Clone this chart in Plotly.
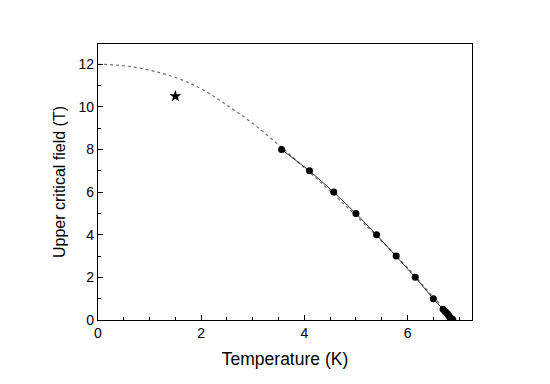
import plotly.graph_objects as go

# Measured data (dots)
temp_meas = [3.56, 4.10, 4.57, 5.00, 5.40, 5.78, 6.15, 6.50, 6.69, 6.73, 6.77, 6.80, 6.83, 6.86, 6.88]
hc2_meas = [8.0, 7.0, 6.0, 5.0, 4.0, 3.0, 2.0, 1.0, 0.5, 0.4, 0.3, 0.2, 0.1, 0.05, 0.0]

# Dashed fit curve
temp_fit = [0.0, 0.5, 1.0, 1.5, 2.0, 2.5, 3.0, 3.5, 4.0, 4.5, 5.0, 5.5, 6.0, 6.5, 6.92]
hc2_fit = [12.0, 11.93, 11.72, 11.38, 10.85, 10.08, 9.22, 8.22, 7.15, 6.05, 4.9, 3.7, 2.45, 1.08, 0.0]

# Star point
temp_star = [1.5]
hc2_star = [10.5]

x_ticks = [0, 2, 4, 6]
y_ticks = [0, 2, 4, 6, 8, 10, 12]

FONT = "Liberation Sans, Arial, sans-serif"

fig = go.Figure()
fig.add_trace(go.Scatter(x=temp_fit, y=hc2_fit, mode="lines", line=dict(color="#707070", width=1.2, dash="3px,3px"),
                         line_shape="spline", showlegend=False))
fig.add_trace(go.Scatter(x=temp_meas, y=hc2_meas, mode="lines+markers", line=dict(color="black", width=0.8),
                         marker=dict(color="black", size=7, symbol="circle"), showlegend=False))
fig.add_trace(go.Scatter(x=temp_star, y=hc2_star, mode="markers",
                         marker=dict(color="black", size=9, symbol="star"), showlegend=False))

axis_common = dict(showline=True, linecolor="black", linewidth=1.2, mirror=True, showgrid=False, zeroline=False,
                   ticks="inside", ticklen=5, tickcolor="black", tickwidth=1, automargin=False,
                   tickfont=dict(family=FONT, size=14, color="black"))

fig.update_xaxes(range=[0, 7.25], tickvals=x_ticks,
                 title=dict(text="Temperature (K)", font=dict(family=FONT, size=17.5, color="black"), standoff=12),
                 minor=dict(dtick=0.5, tick0=0, ticks="inside", ticklen=3, tickcolor="black"), **axis_common)
fig.update_yaxes(range=[0, 12.95], tickvals=y_ticks,
                 title=dict(text="Upper critical field (T)", font=dict(family=FONT, size=16, color="black"), standoff=8),
                 minor=dict(dtick=1, tick0=0, ticks="inside", ticklen=3, tickcolor="black"), **axis_common)

# page body adds an 8px offset; margins compensate so the plot box lands where the reference has it
fig.update_layout(width=550, height=384, margin=dict(l=90, r=86, t=36, b=72, autoexpand=False),
                  paper_bgcolor="white", plot_bgcolor="white",
                  font=dict(family=FONT, color="black"))

fig.write_html("out.html")
